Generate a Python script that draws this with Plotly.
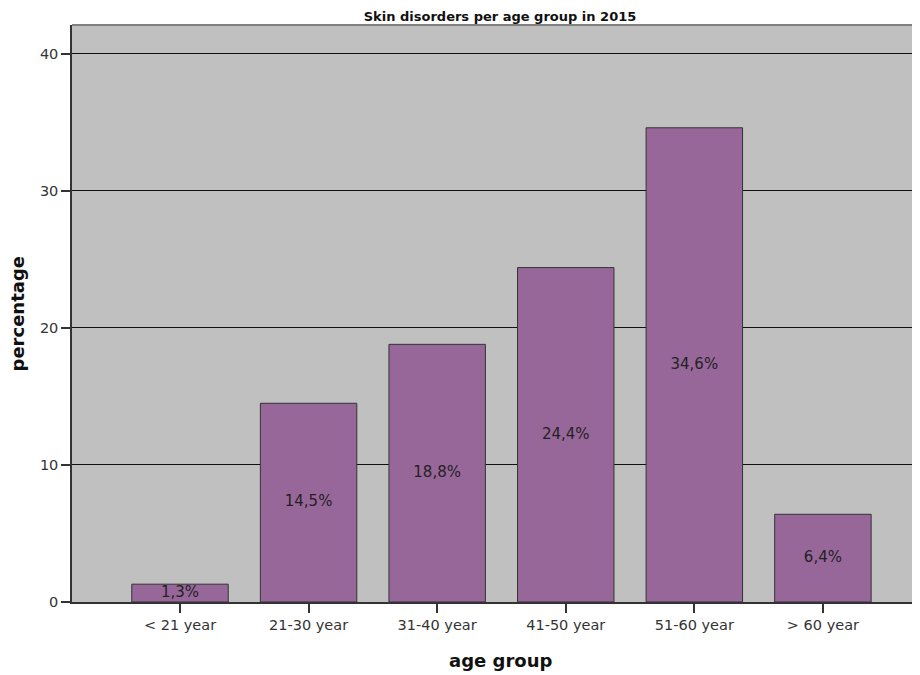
import plotly.graph_objects as go

categories = ["< 21 year", "21-30 year", "31-40 year", "41-50 year", "51-60 year", "> 60 year"]
values = [1.3, 14.5, 18.8, 24.4, 34.6, 6.4]
labels = ["1,3%", "14,5%", "18,8%", "24,4%", "34,6%", "6,4%"]
y_ticks = [0, 10, 20, 30, 40]

FONT = "DejaVu Sans"

fig = go.Figure()
fig.add_trace(go.Bar(
    x=categories, y=values, width=0.75,
    marker=dict(color="#98679A", line=dict(color="#333333", width=1)),
    hoverinfo="skip", showlegend=False,
))
fig.add_trace(go.Scatter(
    x=categories, y=[v / 2 for v in values], mode="text", text=labels,
    textfont=dict(family=FONT, size=15, color="#222222"),
    textposition="middle center", cliponaxis=False,
    hoverinfo="skip", showlegend=False,
))

fig.update_layout(
    width=912, height=667,
    margin=dict(l=64, r=0, t=17, b=73),
    paper_bgcolor="white", plot_bgcolor="#C0C0C0",
    title=dict(text="<b>Skin disorders per age group in 2015</b>",
               font=dict(family=FONT, size=13, color="#111111"),
               x=0.5395, xanchor="center", y=0.988, yanchor="middle", yref="container"),
    xaxis=dict(
        range=[-0.84, 5.755], showgrid=False, zeroline=False,
        showline=True, linecolor="#333333", linewidth=1.5,
        ticks="outside", ticklen=9, tickcolor="#333333", tickwidth=1.5,
        tickfont=dict(family=FONT, size=14.5, color="#333333"),
    ),
    yaxis=dict(
        range=[0, 42.1], tickvals=y_ticks, showgrid=True, gridcolor="#111111", gridwidth=1,
        zeroline=False, showline=True, linecolor="#333333", linewidth=1.5,
        ticks="outside", ticklen=9, tickcolor="#333333", tickwidth=1.5,
        tickfont=dict(family=FONT, size=14.5, color="#333333"),
    ),
    shapes=[dict(type="line", xref="paper", yref="paper", x0=0, x1=1, y0=1, y1=1,
                 line=dict(color="#808080", width=2))],
    annotations=[
        dict(text="<b>age group</b>", xref="paper", yref="paper", x=0.505, y=-0.102,
             xanchor="center", yanchor="middle", showarrow=False,
             font=dict(family=FONT, size=18, color="#111111")),
        dict(text="<b>percentage</b>", xref="paper", yref="paper", x=-0.0637, y=0.5,
             xanchor="center", yanchor="middle", textangle=-90, showarrow=False,
             font=dict(family=FONT, size=18, color="#111111")),
    ],
)

fig.write_html("out.html")
